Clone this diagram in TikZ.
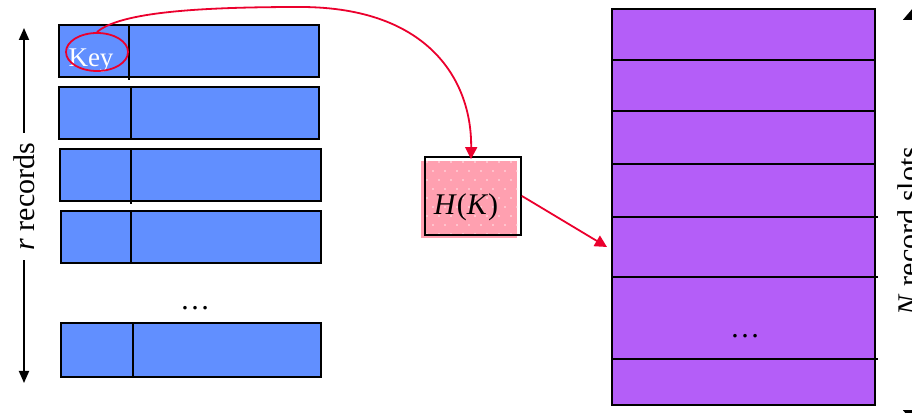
\documentclass[tikz,border=0pt]{standalone}
\usepackage{fontspec}
\setmainfont{Liberation Serif}
\usetikzlibrary{arrows.meta,shapes.geometric}
\definecolor{recblue}{RGB}{97,143,255}
\definecolor{slotpurple}{RGB}{180,94,248}
\definecolor{hpink}{RGB}{255,160,176}
\definecolor{hred}{RGB}{235,0,45}
\tikzset{
  rec/.style={draw=black, fill=recblue, line width=1.8pt, inner sep=0pt, minimum width=260pt, minimum height=52pt},
  bline/.style={draw=black, line width=1.8pt},
  redline/.style={draw=hred, line width=1.8pt},
  redarrow/.style={redline, -{Triangle[width=12pt,length=12pt]}},
  blackarrow/.style={bline, -{Triangle[width=10pt,length=12pt]}},
  bigtext/.style={font=\fontsize{30}{36}\selectfont, inner sep=0pt},
  pinkdot/.style={fill=white!75!hpink},
}
\begin{document}
\begin{tikzpicture}[x=1pt,y=1pt]
\useasboundingbox (0,0) rectangle (912,412);
\clip (0,0) rectangle (912,412);

% records
\node[rec] (r1) at (189,361) {};
\node[rec] (r2) at (189,299) {};
\node[rec, minimum width=261pt] (r3) at (190.5,237) {};
\node[rec] (r4) at (191,175) {};
\node[rec, minimum height=54pt] (r5) at (191,62) {};
\draw[bline] (r1.north -| 129,0) -- ([yshift=-2pt]r1.south -| 129,0);
\draw[bline] (r2.north -| 131,0) -- (r2.south -| 131,0);
\draw[bline] (r3.north -| 131,0) -- ([yshift=-2pt]r3.south -| 131,0);
\draw[bline] (r4.north -| 131,0) -- (r4.south -| 131,0);
\draw[bline] (r5.north -| 133,0) -- (r5.south -| 133,0);
\node[bigtext, anchor=base] (ldots) at (195,102) {…};

% key ellipse
\node[bigtext, font=\fontsize{27}{30}\selectfont, text=white, anchor=base] (key) at (91,345) {Key};
\node[ellipse, redline, minimum width=62pt, minimum height=38pt, inner sep=0pt] (ell) at (97,360) {};

% left arrow
\node[bigtext, rotate=90, inner xsep=10pt] (rlab) at (24,215.5) {\textit{r} records};
\coordinate (rtop) at (24,384);
\coordinate (rbot) at (24,29);
\draw[blackarrow] (rlab.east) -- (rtop);
\draw[blackarrow] (rlab.west) -- (rbot);

% hash box
\fill[hpink] (421,174) rectangle (517,251);
\foreach \j in {0,...,8} {
  \pgfmathsetmacro{\off}{mod(\j,2)*6}
  \foreach \i in {0,...,7} {
    \fill[pinkdot] ({427+\i*12+\off},{178+\j*9}) circle (0.9pt);
  }
}
\node[draw=black, line width=1.8pt, minimum width=96pt, minimum height=78pt, inner sep=0pt] (H) at (473,216) {};
\node[bigtext, anchor=base] (htext) at (466,197) {\textit{H}(\textit{K})};

% table
\node[draw=black, fill=slotpurple, line width=1.8pt, minimum width=263pt, minimum height=396pt, inner sep=0pt] (tab) at (743.5,205) {};
\foreach \yy in {352,301,248} {
  \draw[bline] (612,\yy) -- (875,\yy);
}
\foreach \yy in {195,135,53} {
  \draw[bline] (612,\yy) -- (878,\yy);
}
\node[bigtext, anchor=base] (rdots) at (745,74) {…};

% right arrow
\node[bigtext, rotate=90, inner xsep=10pt] (nlab) at (908,181) {\textit{N} record slots};
\coordinate (ntop) at (913,404);
\coordinate (nbot) at (913,-10);
\draw[bline, -{Triangle[width=20pt,length=12pt]}] ([xshift=5pt]nlab.east) -- (ntop);
\draw[bline, -{Triangle[width=20pt,length=12pt]}] ([xshift=5pt]nlab.west) -- (nbot);

% red connectors
\draw[redarrow] (ell.north) .. controls (120,400) and (200,405) .. (300,405)
   .. controls (430,405) and (472,330) .. ([xshift=-2pt,yshift=-3pt]H.north);
\coordinate (hit) at (607,165);
\draw[redarrow] (H.east) -- (hit);
\end{tikzpicture}
\end{document}
